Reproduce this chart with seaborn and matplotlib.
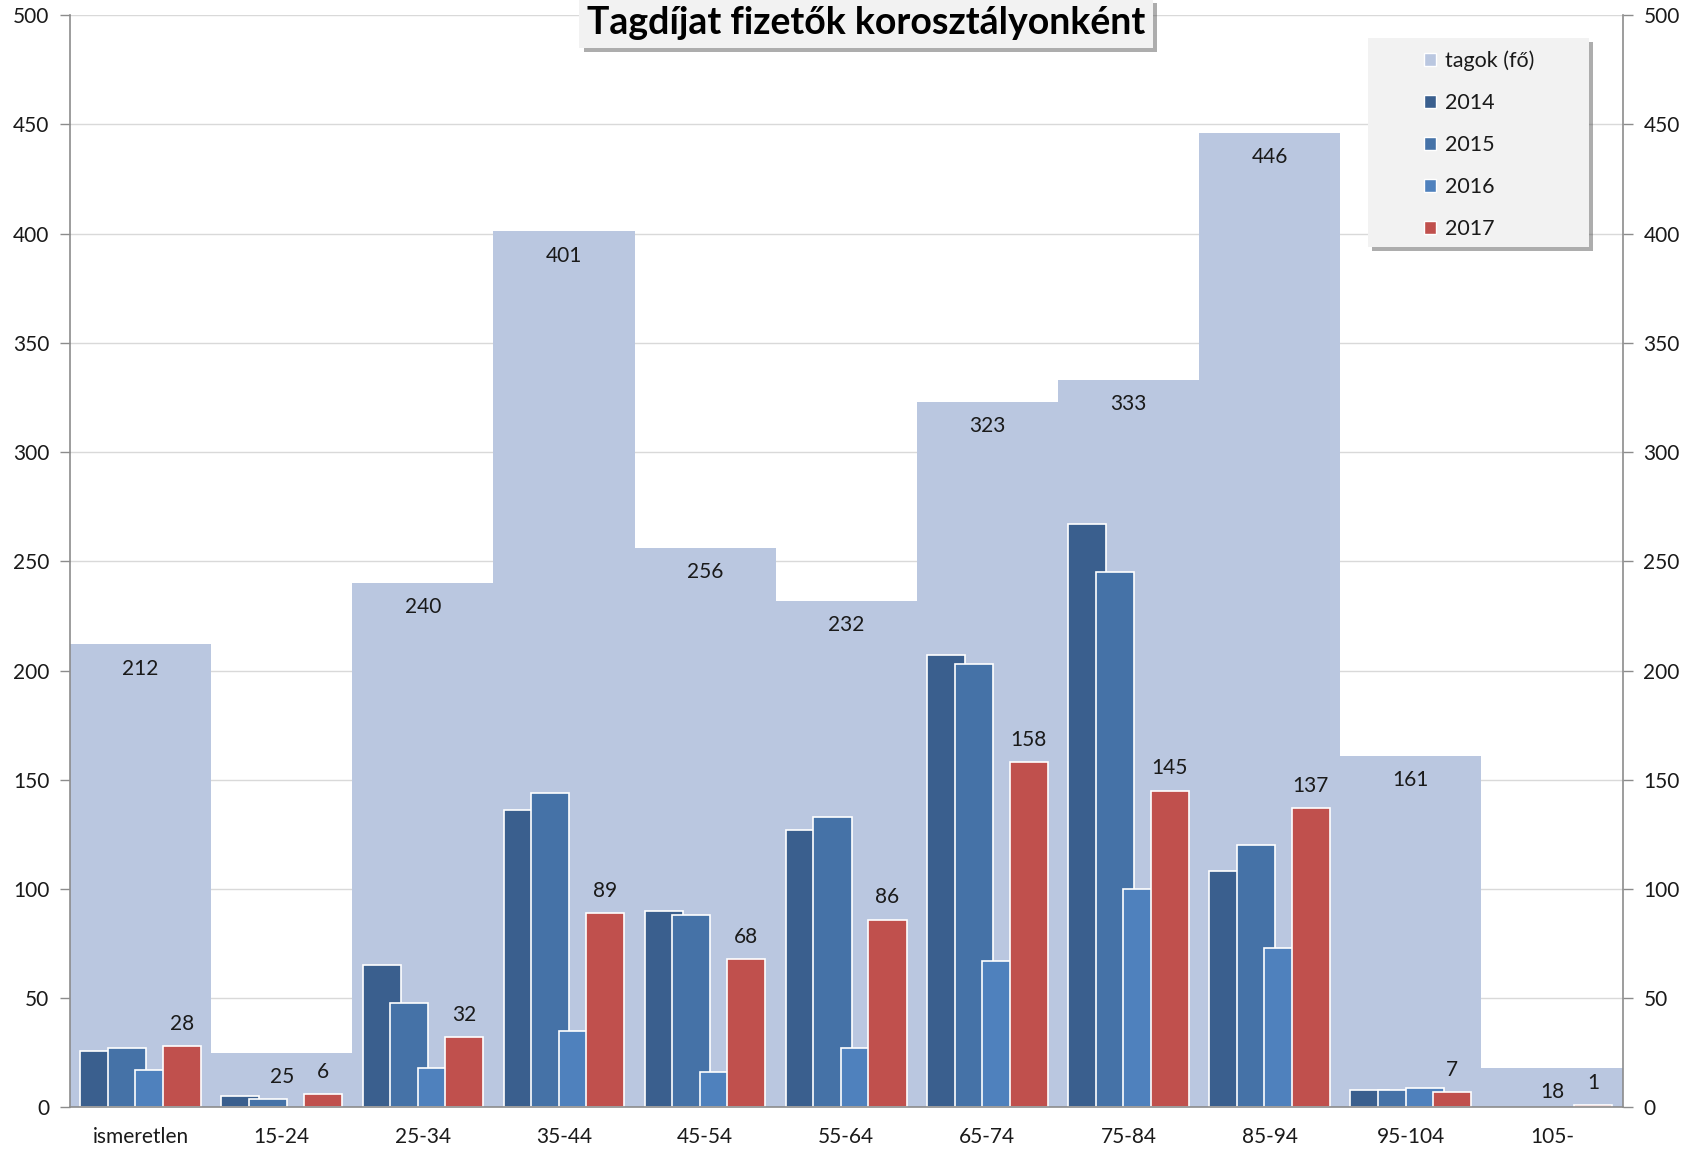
import numpy as np
import pandas as pd
import matplotlib
matplotlib.use("Agg")
import matplotlib.pyplot as plt
import matplotlib.patheffects as pe
from matplotlib.patches import Patch, Rectangle
import seaborn as sns

# data
korosztaly = ["ismeretlen", "15-24", "25-34", "35-44", "45-54", "55-64",
              "65-74", "75-84", "85-94", "95-104", "105-"]
tagok = [212, 25, 240, 401, 256, 232, 323, 333, 446, 161, 18]
ev2014 = [26, 5, 65, 136, 90, 127, 207, 267, 108, 8, 0]
ev2015 = [27, 4, 48, 144, 88, 133, 203, 245, 120, 8, 0]
ev2016 = [17, 0, 18, 35, 16, 27, 67, 100, 73, 9, 0]
ev2017 = [28, 6, 32, 89, 68, 86, 158, 145, 137, 7, 1]
evek = ["2014", "2015", "2016", "2017"]

szin_tagok = "#bac7e0"
szinek = ["#3a5f8e", "#4572a7", "#4f81bd", "#c0504d"]

sns.set_style("white")
plt.rcParams["font.family"] = ["Lato", "DejaVu Sans"]
szoveg = "#1a1a1a"
tengely = "#8c8c8c"

fig = plt.figure(figsize=(17.04, 11.53), dpi=100)
ax = fig.add_axes([70 / 1704, 1 - 1107.4 / 1153, 1552.5 / 1704, (1107.4 - 15.2) / 1153])

df_tag = pd.DataFrame({"kat": korosztaly, "ertek": tagok})
sns.barplot(data=df_tag, x="kat", y="ertek", order=korosztaly, color=szin_tagok,
            saturation=1, width=1.0, errorbar=None, linewidth=0, ax=ax, zorder=1)
n_tag = len(ax.patches)

df_ev = pd.DataFrame({
    "kat": korosztaly * 4,
    "ev": sum([[e] * len(korosztaly) for e in evek], []),
    "ertek": ev2014 + ev2015 + ev2016 + ev2017,
})
sns.barplot(data=df_ev, x="kat", y="ertek", hue="ev", order=korosztaly, hue_order=evek,
            palette=szinek, saturation=1, width=0.78, dodge=True, errorbar=None,
            edgecolor="white", linewidth=1.2, legend=False, ax=ax, zorder=2)

# Excel-style overlapping bars: widen each bar around its centre
for p in ax.patches[n_tag:]:
    c = p.get_x() + p.get_width() / 2
    p.set_width(0.27)
    p.set_x(c - 0.135)
    if p.get_height() == 0:
        p.set_linewidth(0)

# labels
for i, v in enumerate(tagok):
    ax.annotate(str(v), (i, v), xytext=(0, -17.5), textcoords="offset points",
                ha="center", va="center", fontsize=15, color=szoveg, zorder=3)
for i, v in enumerate(ev2017):
    ax.annotate(str(v), (i + 0.2925, v), xytext=(0, 16), textcoords="offset points",
                ha="center", va="center", fontsize=15, color=szoveg, zorder=3)

ax.set_xlim(-0.5, len(korosztaly) - 0.5)
ax.set_ylim(0, 500)
ax.set_yticks(np.arange(0, 501, 50))
ax.set_xticks(np.arange(-0.5, len(korosztaly), 1), minor=True)
ax.set_xlabel("")
ax.set_ylabel("")
ax.yaxis.grid(True, color="#d9d9d9", linewidth=1)
ax.set_axisbelow(True)

ax.tick_params(axis="x", which="major", length=0, pad=14, labelsize=15, labelcolor=szoveg)
ax.tick_params(axis="x", which="minor", length=8, width=1, color=tengely, direction="out")
ax.tick_params(axis="y", length=7, width=1, color=tengely, direction="out", left=True,
               right=True, labelleft=True, labelright=True, labelsize=15,
               labelcolor=szoveg, pad=8)
for s in ["left", "right", "bottom"]:
    ax.spines[s].set_visible(True)
    ax.spines[s].set_color(tengely)
    ax.spines[s].set_linewidth(1.2)
ax.spines["top"].set_visible(False)

# title box
cim = fig.text(866 / 1704, 1 - 23 / 1153, "Tagdíjat fizetők korosztályonként",
               ha="center", va="center", fontsize=27, fontweight="bold", color="black",
               bbox=dict(boxstyle="square,pad=0.2", facecolor="#f2f2f2", edgecolor="none"),
               zorder=10)
cim.get_bbox_patch().set_path_effects([pe.withSimplePatchShadow(offset=(3, -3), alpha=0.45), pe.Normal()])

# legend with a boxed background
hatter = Rectangle((1368 / 1704, 1 - 247 / 1153), 221 / 1704, 209 / 1153,
                   transform=fig.transFigure, facecolor="#f2f2f2", edgecolor="none", zorder=8)
hatter.set_path_effects([pe.withSimplePatchShadow(offset=(3, -3), alpha=0.45), pe.Normal()])
fig.add_artist(hatter)

kezelok = [Patch(facecolor=szin_tagok, label="tagok (fő)")] + \
    [Patch(facecolor=c, label=e) for c, e in zip(szinek, evek)]
leg = fig.legend(handles=kezelok, loc="upper left", bbox_to_anchor=(1413 / 1704, 1 - 40 / 1153),
                 frameon=False, fontsize=15.5, handlelength=0.55, handleheight=0.55,
                 handletextpad=0.45, labelspacing=1.02, borderpad=0)
leg.set_zorder(9)
for t in leg.get_texts():
    t.set_color(szoveg)

fig.savefig("out.png", dpi=100)
